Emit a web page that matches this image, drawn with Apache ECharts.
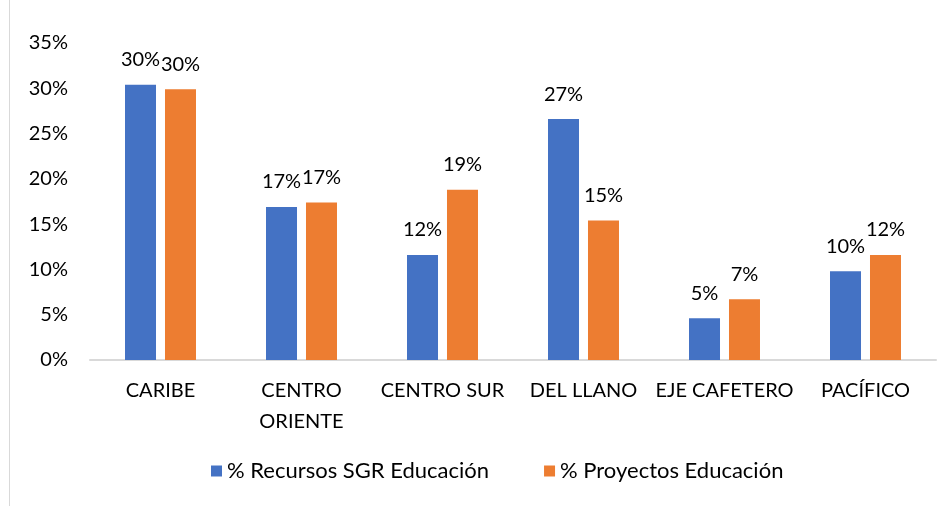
<!DOCTYPE html>
<html>
<head>
<meta charset="utf-8">
<script src="https://cdn.jsdelivr.net/npm/echarts@6/dist/echarts.min.js"></script>
<style>
  html, body { margin: 0; padding: 0; background: #fff; }
  #chart { width: 951px; height: 506px; }
</style>
</head>
<body>
<div id="chart"></div>
<script>
const regions = ["CARIBE", "CENTRO ORIENTE", "CENTRO SUR", "DEL LLANO", "EJE CAFETERO", "PACÍFICO"];
const recursos = [30.4, 16.9, 11.6, 26.6, 4.6, 9.8];
const proyectos = [29.9, 17.4, 18.8, 15.4, 6.7, 11.6];
const yTicks = [0, 5, 10, 15, 20, 25, 30, 35];

const font = "Lato, 'Open Sans', sans-serif";
const chart = echarts.init(document.getElementById("chart"));

function barSeries(name, data, color) {
  return {
    name: name,
    type: "bar",
    data: data,
    barWidth: 31,
    barGap: "29%",
    itemStyle: { color: color },
    label: {
      show: true,
      position: "top",
      distance: 15,
      color: "#000",
      fontFamily: font,
      fontSize: 20,
      formatter: (p) => Math.round(p.value) + "%",
    },
  };
}

chart.setOption({
  animation: false,
  textStyle: { fontFamily: font },
  grid: { left: 90, right: 15, top: 43, bottom: 146 },
  legend: {
    bottom: 19,
    left: 206,
    itemWidth: 11,
    itemHeight: 11,
    itemGap: 55,
    icon: "rect",
    textStyle: { color: "#000", fontSize: 22, fontFamily: font },
  },
  xAxis: {
    type: "category",
    data: regions,
    axisLine: { lineStyle: { color: "#d9d9d9", width: 2 } },
    axisTick: { show: false },
    axisLabel: {
      color: "#000",
      fontSize: 20,
      fontFamily: font,
      margin: 15,
      lineHeight: 31,
      interval: 0,
      formatter: (v) => (v === "CENTRO ORIENTE" ? "CENTRO\nORIENTE" : v),
    },
  },
  yAxis: {
    type: "value",
    min: yTicks[0],
    max: yTicks[yTicks.length - 1],
    interval: 5,
    splitLine: { show: false },
    axisLine: { show: false },
    axisTick: { show: false },
    axisLabel: {
      color: "#000",
      fontSize: 20,
      fontFamily: font,
      margin: 22,
      formatter: "{value}%",
    },
  },
  graphic: [
    {
      type: "line",
      shape: { x1: 9.5, y1: 0, x2: 9.5, y2: 506 },
      style: { stroke: "#d9d9d9", lineWidth: 1 },
    },
  ],
  series: [
    barSeries("% Recursos SGR Educación", recursos, "#4472C4"),
    barSeries("% Proyectos Educación", proyectos, "#ED7D31"),
  ],
});
</script>
</body>
</html>
